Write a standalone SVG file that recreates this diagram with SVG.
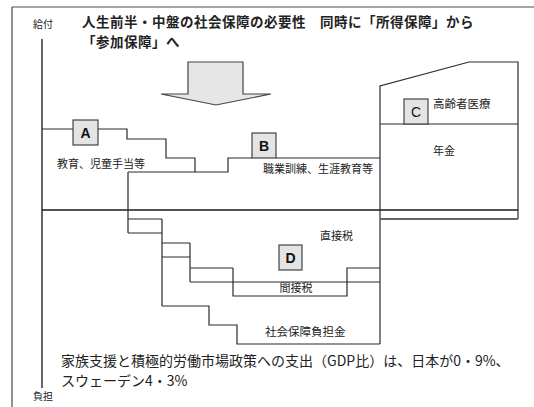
<svg xmlns="http://www.w3.org/2000/svg" width="534" height="407" viewBox="0 0 534 407">
<style>
.jp{font-family:"Noto Sans CJK JP","Noto Sans CJK SC",sans-serif;fill:#222}
.s11{font-size:11px}
.ln{fill:none;stroke:#2a2a2a;stroke-width:1.2}
.box{fill:#e4e4e4;stroke:#444;stroke-width:1.2}
.let{font-family:"Liberation Sans",Arial,sans-serif;font-size:14px;fill:#111;text-anchor:middle}
</style>
<rect width="534" height="407" fill="#fff"/>
<!-- frame -->
<line x1="12" y1="7" x2="534" y2="7" stroke="#888" stroke-width="1.6"/>
<line x1="12" y1="7" x2="12" y2="407" stroke="#222" stroke-width="1"/>
<!-- axis -->
<line x1="42" y1="39" x2="42" y2="388" stroke="#666" stroke-width="2"/>
<text class="jp" x="33" y="28" font-size="10">給付</text>
<text class="jp" x="33" y="400" font-size="10">負担</text>
<!-- title -->
<text class="jp" x="82" y="27" font-size="13.5" font-weight="bold" letter-spacing="0.5">人生前半・中盤の社会保障の必要性　同時に「所得保障」から</text>
<text class="jp" x="82" y="47" font-size="13.5" font-weight="bold" letter-spacing="0.5">「参加保障」へ</text>
<!-- big arrow -->
<path d="M188,62 H243 V94 H271 L216,105 L161,94 H188 Z" fill="#e6e6e6" stroke="#444" stroke-width="1.2"/>
<g id="connectors">
<path class="ln" d="M42,129 H73 M98,129 H127 V139 H166 V158 H195 V172"/>
<path class="ln" d="M128,172 H228 V158 H252 M276,158 H380"/>
<path class="ln" d="M380,344 V86 L469,62 H518 V219"/>
<line x1="380" y1="124" x2="518" y2="124" stroke="#2a2a2a" stroke-width="1.2"/>
<line x1="42" y1="210" x2="518" y2="210" stroke="#1a1a1a" stroke-width="1.4"/>
<line x1="380" y1="219" x2="518" y2="219" stroke="#666" stroke-width="2"/>
<path class="ln" d="M128,172 V233 M128,219 H162 M128,233 H162 M162,219 V306 M162,243 H190 M162,257 H190 M190,243 V282 M190,268 H233 M190,282 H380 M233,268 V296 H347 V268 H380"/>
<path class="ln" d="M162,306 H209 V325 H237 V344 H380"/>
</g>
<g id="node-A">
<rect class="box" x="73" y="120" width="25" height="25"/>
<text class="let" x="85.5" y="137.5" font-weight="bold">A</text>
<text class="jp s11" x="57" y="168">教育、児童手当等</text>
</g>
<g id="node-B">
<rect class="box" x="252" y="133" width="24" height="25"/>
<text class="let" x="264" y="150.5" font-weight="bold">B</text>
<text class="jp s11" x="263" y="173">職業訓練、生涯教育等</text>
</g>
<g id="node-C">
<rect class="box" x="404" y="99" width="24" height="25"/>
<text class="let" x="416" y="116.5">C</text>
<text class="jp" x="433" y="108" font-size="11.5">高齢者医療</text>
<text class="jp s11" x="433" y="155">年金</text>
</g>
<g id="node-D">
<rect class="box" x="279" y="245" width="23" height="25"/>
<text class="let" x="290.5" y="262.5" font-weight="bold">D</text>
<text class="jp s11" x="320" y="240">直接税</text>
<text class="jp s11" x="296" y="292" text-anchor="middle">間接税</text>
<text class="jp" x="265" y="336" font-size="11.5">社会保障負担金</text>
</g>
<text class="jp" x="61" y="366" font-size="14">家族支援と積極的労働市場政策への支出（GDP比）は、日本が0・9%、</text>
<text class="jp" x="61" y="386" font-size="14">スウェーデン4・3%</text>
</svg>
